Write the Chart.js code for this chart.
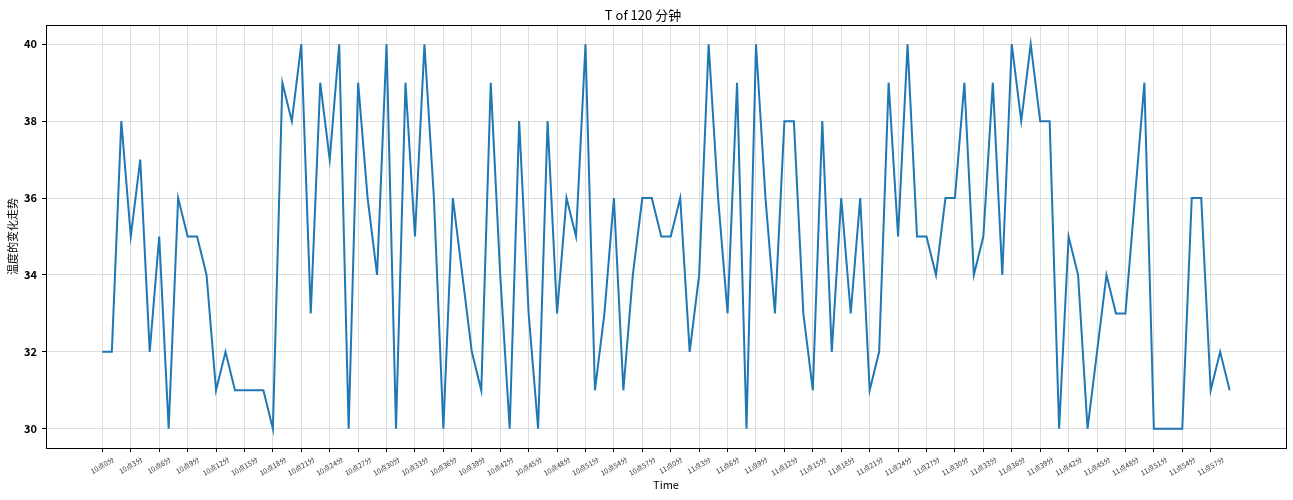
<!DOCTYPE html>
<html>
<head>
<meta charset="utf-8">
<script src="https://cdn.jsdelivr.net/npm/chart.js@4.4.0/dist/chart.umd.min.js"></script>
<style>
html, body { margin: 0; padding: 0; background: #fff; }
#wrap { width: 1293px; height: 500px; }
</style>
</head>
<body>
<div id="wrap"><canvas id="tempChart"></canvas></div>
<script>
var chartTitle = 'T of 120 分钟';
var xTitle = 'Time';
var yTitle = '温度的变化走势';

// one reading per minute, 10点0分 .. 11点59分
var temps = [
    32, 32, 38, 35, 37, 32, 35, 30, 36, 35, 35, 34, 31, 32, 31, 31, 31, 31, 30, 39,
    38, 40, 33, 39, 37, 40, 30, 39, 36, 34, 40, 30, 39, 35, 40, 36, 30, 36, 34, 32,
    31, 39, 34, 30, 38, 33, 30, 38, 33, 36, 35, 40, 31, 33, 36, 31, 34, 36, 36, 35,
    35, 36, 32, 34, 40, 36, 33, 39, 30, 40, 36, 33, 38, 38, 33, 31, 38, 32, 36, 33,
    36, 31, 32, 39, 35, 40, 35, 35, 34, 36, 36, 39, 34, 35, 39, 34, 40, 38, 40, 38,
    38, 30, 35, 34, 30, 32, 34, 33, 33, 36, 39, 30, 30, 30, 30, 36, 36, 31, 32, 31
];

// a label every 3 minutes
var tickStep = 3;
var tickLabels = [
    '10点0分', '10点3分', '10点6分', '10点9分', '10点12分', '10点15分', '10点18分', '10点21分',
    '10点24分', '10点27分', '10点30分', '10点33分', '10点36分', '10点39分', '10点42分', '10点45分',
    '10点48分', '10点51分', '10点54分', '10点57分', '11点0分', '11点3分', '11点6分', '11点9分',
    '11点12分', '11点15分', '11点18分', '11点21分', '11点24分', '11点27分', '11点30分', '11点33分',
    '11点36分', '11点39分', '11点42分', '11点45分', '11点48分', '11点51分', '11点54分', '11点57分'
];
var yTicks = [30, 32, 34, 36, 38, 40];

var fontFamily = '"Noto Sans CJK SC", "Noto Sans", sans-serif';

function buildPoints() {
    var pts = [];
    for (var i = 0; i < temps.length; i++) {
        pts.push({ x: i, y: temps[i] });
    }
    return pts;
}

function alignPx(v) {
    return Math.round(v - 0.5) + 0.5;
}

// matplotlib style: full box frame + centred rotated tick labels
var frameAndLabels = {
    id: 'frameAndLabels',
    afterDraw: function(chart) {
        var ctx = chart.ctx;
        var area = chart.chartArea;
        var xs = chart.scales.x;
        ctx.save();
        ctx.strokeStyle = '#000';
        ctx.lineWidth = 1;
        var l = alignPx(area.left), r = alignPx(area.right);
        var t = alignPx(area.top), b = alignPx(area.bottom);
        ctx.strokeRect(l, t, r - l, b - t);

        ctx.fillStyle = '#333';
        ctx.font = '7px ' + fontFamily;
        ctx.textAlign = 'center';
        ctx.textBaseline = 'middle';
        var ang = Math.PI / 6;
        for (var k = 0; k < tickLabels.length; k++) {
            var x = xs.getPixelForValue(k * tickStep);
            var w = ctx.measureText(tickLabels[k]).width;
            var boxH = w * Math.sin(ang) + 7 * Math.cos(ang);
            ctx.save();
            ctx.translate(x, area.bottom + 8 + boxH / 2);
            ctx.rotate(-ang);
            ctx.fillText(tickLabels[k], 0, 0);
            ctx.restore();
        }
        ctx.restore();
    }
};

var ctx = document.getElementById('tempChart').getContext('2d');
var tempChart = new Chart(ctx, {
    type: 'line',
    data: {
        datasets: [{
            label: yTitle,
            data: buildPoints(),
            borderColor: '#1f77b4',
            borderWidth: 2,
            pointRadius: 0,
            tension: 0,
            fill: false
        }]
    },
    options: {
        responsive: true,
        maintainAspectRatio: false,
        animation: false,
        layout: { padding: { left: 0, right: 7, top: 0, bottom: 0 } },
        plugins: {
            legend: { display: false },
            tooltip: { enabled: false },
            title: {
                display: true,
                text: chartTitle,
                color: '#000',
                font: { family: fontFamily, size: 13, weight: 'normal', lineHeight: 1.2 },
                padding: { top: 7, bottom: 2.4 }
            }
        },
        scales: {
            x: {
                type: 'linear',
                min: -5.95,
                max: 124.95,
                afterBuildTicks: function(scale) {
                    var list = [];
                    for (var k = 0; k < tickLabels.length; k++) {
                        list.push({ value: k * tickStep });
                    }
                    scale.ticks = list;
                },
                afterFit: function(scale) {
                    scale.height = 52;
                },
                ticks: { display: false },
                grid: {
                    color: '#dddddd',
                    lineWidth: 1,
                    drawTicks: true,
                    tickLength: 4,
                    tickColor: '#000'
                },
                border: { display: false },
                title: {
                    display: true,
                    text: xTitle,
                    color: '#000',
                    font: { family: fontFamily, size: 11, lineHeight: 1.2 },
                    padding: { top: 0, bottom: 8.4 }
                }
            },
            y: {
                type: 'linear',
                min: 29.5,
                max: 40.5,
                afterBuildTicks: function(scale) {
                    scale.ticks = yTicks.map(function(v) { return { value: v }; });
                },
                afterFit: function(scale) {
                    scale.width = 46;
                },
                ticks: {
                    color: '#000',
                    padding: 5,
                    font: { family: fontFamily, size: 11, weight: 'bold' }
                },
                grid: {
                    color: '#dddddd',
                    lineWidth: 1,
                    drawTicks: true,
                    tickLength: 4,
                    tickColor: '#000'
                },
                border: { display: false },
                title: {
                    display: true,
                    text: yTitle,
                    color: '#000',
                    font: { family: fontFamily, size: 11, lineHeight: 1.2 },
                    padding: { top: 6, bottom: 0 }
                }
            }
        }
    },
    plugins: [frameAndLabels]
});
</script>
</body>
</html>
